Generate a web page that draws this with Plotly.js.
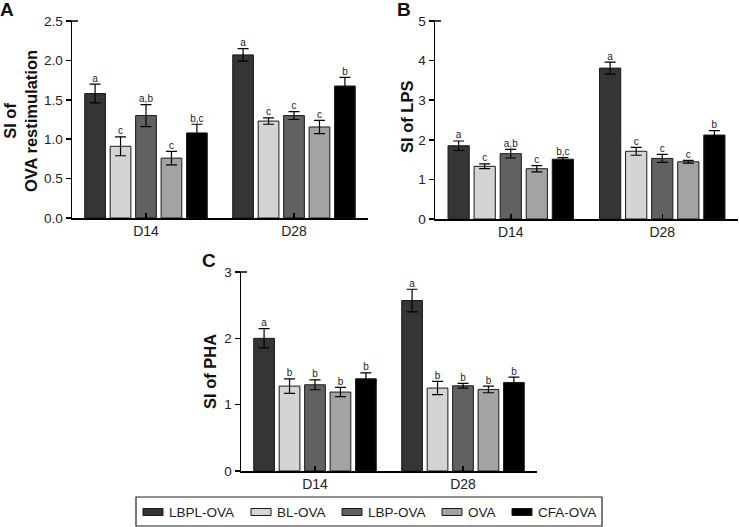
<!DOCTYPE html>
<html>
<head>
<meta charset="utf-8">
<script src="https://cdn.plot.ly/plotly-3.0.1.min.js"></script>
<style>html,body{margin:0;padding:0;background:#fff;}#chart{width:739px;height:527px;}</style>
</head>
<body>
<div id="chart"></div>
<script>
// ---------- data ----------
const categories = ['D14', 'D28'];
const groups = ['LBPL-OVA', 'BL-OVA', 'LBP-OVA', 'OVA', 'CFA-OVA'];

// Panel A: SI of OVA restimulation  [D14, D28]
const ovaMean = [[1.58, 2.07], [0.91, 1.23], [1.30, 1.30], [0.76, 1.155], [1.08, 1.675]];
const ovaErr  = [[0.12, 0.08], [0.12, 0.04], [0.14, 0.05], [0.085, 0.085], [0.11, 0.11]];
const ovaSig  = [['a', 'a'], ['c', 'c'], ['a,b', 'c'], ['c', 'c'], ['b,c', 'b']];

// Panel B: SI of LPS
const lpsMean = [[1.85, 3.81], [1.33, 1.71], [1.65, 1.53], [1.27, 1.445], [1.51, 2.12]];
const lpsErr  = [[0.12, 0.15], [0.06, 0.10], [0.11, 0.10], [0.08, 0.035], [0.04, 0.11]];
const lpsSig  = [['a', 'a'], ['c', 'c'], ['a,b', 'c'], ['c', 'c'], ['b,c', 'b']];

// Panel C: SI of PHA
const phaMean = [[2.00, 2.57], [1.28, 1.25], [1.30, 1.285], [1.19, 1.23], [1.39, 1.335]];
const phaErr  = [[0.145, 0.17], [0.11, 0.10], [0.075, 0.035], [0.07, 0.05], [0.09, 0.08]];
const phaSig  = [['a', 'a'], ['b', 'b'], ['b', 'b'], ['b', 'b'], ['b', 'b']];

// ---------- styles ----------
const colors = ['#353535', '#d4d4d4', '#616161', '#a3a3a3', '#000000'];
const W = 739, H = 527;
const FONT = 'Liberation Sans, Arial, sans-serif';
const pitch = 0.172, barW = 0.14;
const px = v => v / W;
const py = v => 1 - v / H;

const traces = [];
function addPanel(means, errs, sigs, xa, ya) {
  groups.forEach((g, i) => {
    const xs = categories.map((c, k) => k + (i - 2) * pitch);
    traces.push({
      type: 'bar', x: xs, y: means[i], width: barW, name: g,
      xaxis: xa, yaxis: ya, showlegend: false,
      marker: {color: colors[i], line: {color: '#1a1a1a', width: 1}},
      error_y: {type: 'data', array: errs[i], visible: true, color: '#000', thickness: 1.2, width: 5.5},
      hoverinfo: 'skip'
    });
    traces.push({
      type: 'scatter', mode: 'text', x: xs, y: means[i].map((m, k) => m + errs[i][k]),
      text: sigs[i], textposition: 'top center',
      textfont: {family: FONT, size: 10, color: '#222'},
      xaxis: xa, yaxis: ya, showlegend: false, hoverinfo: 'skip', cliponaxis: false
    });
  });
}
addPanel(ovaMean, ovaErr, ovaSig, 'x', 'y');
addPanel(lpsMean, lpsErr, lpsSig, 'x2', 'y2');
addPanel(phaMean, phaErr, phaSig, 'x3', 'y3');

function xAxis(domain, anchor) {
  return {domain: domain, anchor: anchor, range: [-0.5, 1.5], tickvals: [0, 1], ticktext: categories,
    ticks: 'inside', ticklen: 5, tickwidth: 1.5, tickcolor: '#000',
    showline: true, linecolor: '#000', linewidth: 1.5, showgrid: false, zeroline: false,
    tickfont: {family: FONT, size: 14, color: '#222'}, fixedrange: true};
}
function yAxis(domain, anchor, range, dtick, fmt) {
  return {domain: domain, anchor: anchor, range: range, dtick: dtick, tick0: 0, tickformat: fmt,
    ticks: 'outside', ticklen: 5, tickwidth: 1.5, tickcolor: '#000',
    showline: true, linecolor: '#000', linewidth: 1.5, showgrid: false, zeroline: false,
    tickfont: {family: FONT, size: 13.5, color: '#222'}, fixedrange: true};
}

const annotations = [
  {text: '<b>A</b>', x: px(7), y: py(9)},
  {text: '<b>B</b>', x: px(404), y: py(9)},
  {text: '<b>C</b>', x: px(209), y: py(260)}
].map(a => Object.assign(a, {xref: 'paper', yref: 'paper', showarrow: false, xanchor: 'center', yanchor: 'middle',
  font: {family: FONT, size: 19, color: '#111'}}));

[
  {text: '<b>SI of</b><br><b>OVA restimulation</b>', x: px(20), y: py(121)},
  {text: '<b>SI of LPS</b>', x: px(407), y: py(117)},
  {text: '<b>SI of PHA</b>', x: px(210), y: py(372)}
].forEach(a => annotations.push(Object.assign(a, {xref: 'paper', yref: 'paper', showarrow: false,
  textangle: -90, xanchor: 'center', yanchor: 'middle', font: {family: FONT, size: 16.5, color: '#111'}})));

const shapes = [];
// small cap at the top of each y axis
[[72, 21], [435, 21], [241, 272]].forEach(([ax, ay]) => {
  shapes.push({type: 'line', xref: 'paper', yref: 'paper', x0: px(ax - 1.5), x1: px(ax + 6), y0: py(ay), y1: py(ay),
    line: {color: '#000', width: 1.5}});
});

// custom legend
const legSwatchX = [143, 251, 342, 442, 512];
shapes.push({type: 'rect', xref: 'paper', yref: 'paper', x0: px(136), x1: px(602), y0: py(526), y1: py(497),
  line: {color: '#222', width: 1.2}, fillcolor: 'rgba(0,0,0,0)'});
groups.forEach((g, i) => {
  shapes.push({type: 'rect', xref: 'paper', yref: 'paper', x0: px(legSwatchX[i]), x1: px(legSwatchX[i] + 20),
    y0: py(515.5), y1: py(508.5), line: {color: '#1a1a1a', width: 1}, fillcolor: colors[i]});
  annotations.push({text: g, xref: 'paper', yref: 'paper', x: px(legSwatchX[i] + 24), y: py(512),
    xanchor: 'left', yanchor: 'middle', showarrow: false, font: {family: FONT, size: 13.5, color: '#222'}});
});

const layout = {
  width: W, height: H, margin: {l: 0, r: 0, t: 0, b: 0},
  paper_bgcolor: '#fff', plot_bgcolor: '#fff', showlegend: false,
  xaxis: xAxis([px(72), px(368)], 'y'),
  yaxis: yAxis([py(218), py(21)], 'x', [0, 2.5], 0.5, '.1f'),
  xaxis2: xAxis([px(435), px(738)], 'y2'),
  yaxis2: yAxis([py(219), py(21)], 'x2', [0, 5], 1, 'd'),
  xaxis3: xAxis([px(241), px(537)], 'y3'),
  yaxis3: yAxis([py(471), py(272)], 'x3', [0, 3], 1, 'd'),
  annotations: annotations, shapes: shapes
};

Plotly.newPlot('chart', traces, layout, {displayModeBar: false, staticPlot: true});
</script>
</body>
</html>
